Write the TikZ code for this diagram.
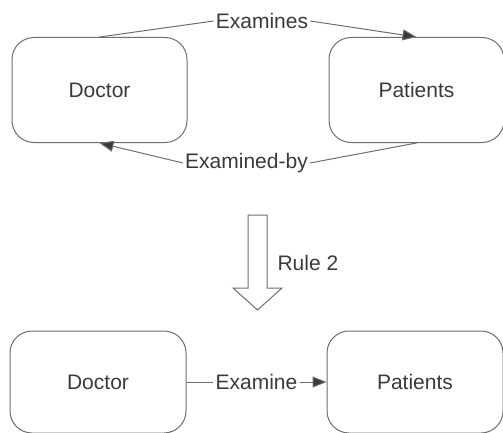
\documentclass[tikz,border=0pt]{standalone}
\usepackage{fontspec}
\setmainfont{Liberation Sans}
\usetikzlibrary{arrows.meta}
\definecolor{linegray}{HTML}{6E6E6E}
\definecolor{textgray}{HTML}{3A3A3A}
\begin{document}
\begin{tikzpicture}[x=1pt,y=-1pt,
  font=\fontsize{21}{25}\selectfont, text=textgray,
  entity/.style={draw=linegray, line width=1pt, rounded corners=22pt,
    minimum width=175pt, minimum height=105pt, inner sep=0pt},
  rel/.style={inner sep=2pt},
  link/.style={draw=linegray, line width=1pt},
  tip/.style={link, -{Triangle[length=14pt,width=11pt,fill=textgray]}}]
  \useasboundingbox (0,0) rectangle (503,433);

  % before the rule
  \node[entity] (doc1) at (99.5,90) {Doctor};
  \node[entity] (pat1) at (416.5,90) {Patients};
  \node[rel] (exa) at (262,21) {Examines};
  \node[rel] (exb) at (246.5,163) {Examined-by};
  \draw[link] (doc1.north) -- (exa.west);
  \draw[tip] (exa.east) -- (pat1.north);
  \draw[link] (pat1.south) -- (exb.east);
  \draw[tip] (exb.west) -- (doc1.south);

  % hollow arrow of the transformation
  \draw[draw=linegray, line width=1pt, line join=miter]
    (248,215) -- (267,215) -- (267,288) -- (282,288) -- (257.5,310)
    -- (233,288) -- (248,288) -- cycle;
  \node[anchor=west] (rule) at (274,263) {Rule 2};

  % after the rule
  \node[entity, minimum width=176pt, minimum height=102pt] (doc2) at (98,382) {Doctor};
  \node[entity, minimum width=176pt, minimum height=102pt] (pat2) at (415,382) {Patients};
  \node[rel] (exm) at (256.5,382) {Examine};
  \draw[link] (doc2.east) -- (exm.west);
  \draw[tip] (exm.east) -- (pat2.west);
\end{tikzpicture}
\end{document}
